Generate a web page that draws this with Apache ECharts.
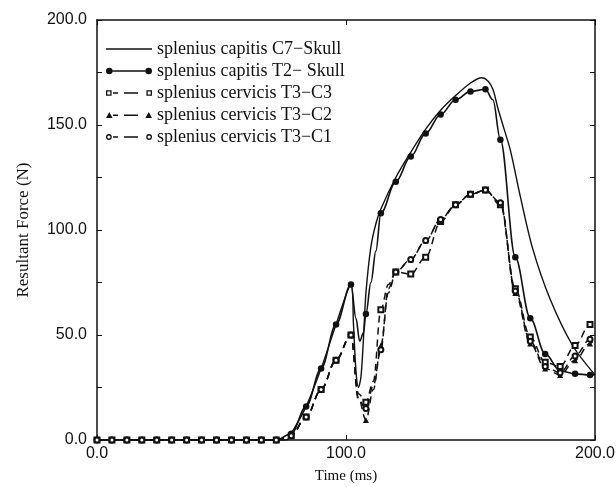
<!DOCTYPE html>
<html>
<head>
<meta charset="utf-8">
<script src="https://cdn.jsdelivr.net/npm/echarts@6/dist/echarts.min.js"></script>
<style>
html,body{margin:0;padding:0;background:#fff;}
#c{width:616px;height:487px;}
</style>
</head>
<body>
<div id="c"></div>
<script>
// ---- data ----
const seriesNames = [
  "splenius capitis C7\u2212Skull",
  "splenius capitis T2\u2212 Skull",
  "splenius cervicis T3\u2212C3",
  "splenius cervicis T3\u2212C2",
  "splenius cervicis T3\u2212C1"
];
const xTicks = [0, 100, 200];
const yTicks = [0, 50, 100, 150, 200];

// C7-Skull (no markers)
const tC7 = [0, 76, 78, 84, 90, 96, 102, 103, 104, 105, 106, 107, 108, 110, 112, 114, 120, 126, 132, 138, 144, 150, 154.5, 157, 159, 161, 163, 166, 170, 175, 182, 191, 200];
const fC7 = [0, 0, 3, 16, 34, 55, 74, 55, 33, 25, 30, 48, 70, 92, 103, 110, 125, 137, 148, 157, 164, 170, 172.5, 171, 167, 158, 150, 138, 116, 91, 67, 45, 31];

// T2-Skull (filled circles every 6 ms)
const tT2 = [0, 6, 12, 18, 24, 30, 36, 42, 48, 54, 60, 66, 72, 78, 84, 90, 96, 102, 104, 105.5, 107, 108, 110, 112, 114, 120, 126, 132, 138, 144, 150, 156, 159, 162, 168, 174, 180, 186, 192, 198, 200];
const fT2 = [0, 0, 0, 0, 0, 0, 0, 0, 0, 0, 0, 0, 0, 3, 16, 34, 55, 74, 58, 47, 51, 60, 75, 90, 108, 123, 135, 146, 155, 162, 166, 167, 162, 143, 87, 58, 41, 33, 31.5, 31, 31];

// T3 series (dashed)
const tT3 = [0, 6, 12, 18, 24, 30, 36, 42, 48, 54, 60, 66, 72, 78, 84, 90, 96, 102, 105, 108, 111, 114, 117, 120, 126, 132, 138, 144, 150, 156, 162, 168, 174, 180, 186, 192, 198, 200];
const fT3C3 = [0, 0, 0, 0, 0, 0, 0, 0, 0, 0, 0, 0, 0, 2, 11, 24, 38, 50, 22, 18, 28, 62, 74, 80, 79, 87, 104, 112, 117, 119, 112, 72, 49, 37, 35, 45, 55, 58];
const fT3C2 = [0, 0, 0, 0, 0, 0, 0, 0, 0, 0, 0, 0, 0, 2, 11, 24, 38, 50, 20, 9.5, 24, 45, 70, 80, 86, 95, 105, 112, 117, 119, 113, 70, 46, 34, 31, 38, 46, 48];
const fT3C1 = [0, 0, 0, 0, 0, 0, 0, 0, 0, 0, 0, 0, 0, 2, 11, 24, 38, 50, 19, 15, 26, 43, 72, 80, 86, 95, 105, 112, 117, 119, 113, 71, 47, 35, 32, 40, 48, 50];

// ---- chart ----
function pairs(t, f) { return t.map((x, i) => [x, f[i]]); }
const markEvery = 6;
function markSize(size) {
  return function (v) { return (v[0] % markEvery === 0) ? size : 0; };
}
const serif = "'Liberation Serif', 'Times New Roman', serif";
const sans = "'Liberation Sans', Arial, sans-serif";
const ink = '#111';

// legend glyphs: line with a marker at both ends, like the reference key
function circ(cx, cy, r, cw) {
  const s = cw ? 1 : 0;
  return 'M' + (cx - r) + ',' + cy + ' A' + r + ',' + r + ' 0 1,' + s + ' ' + (cx + r) + ',' + cy +
         ' A' + r + ',' + r + ' 0 1,' + s + ' ' + (cx - r) + ',' + cy + ' Z ';
}
function rectP(x0, y0, x1, y1, cw) {
  return cw ? ('M' + x0 + ',' + y0 + ' L' + x1 + ',' + y0 + ' L' + x1 + ',' + y1 + ' L' + x0 + ',' + y1 + ' Z ')
            : ('M' + x0 + ',' + y0 + ' L' + x0 + ',' + y1 + ' L' + x1 + ',' + y1 + ' L' + x1 + ',' + y0 + ' Z ');
}
const W = 46, CY = 4.5;
const solidBar = (a, b) => rectP(a, CY - 0.7, b, CY + 0.7, true);
const dashes = rectP(7, CY - 0.7, 12, CY + 0.7, true) + rectP(18, CY - 0.7, 32, CY + 0.7, true);
const iconC7 = 'path://' + rectP(0, CY - 0.7, W, CY + 0.7, true);
const iconT2 = 'path://' + circ(3.3, CY, 3.3, true) + solidBar(6.6, 39.4) + circ(42.7, CY, 3.3, true);
const openSq = (x) => rectP(x, CY - 2.8, x + 5.6, CY + 2.8, true) + rectP(x + 1.3, CY - 1.5, x + 4.3, CY + 1.5, false);
const iconC3 = 'path://' + openSq(0) + dashes + openSq(40.4);
const tri = (cx) => 'M' + cx + ',' + (CY - 3.2) + ' L' + (cx + 3.3) + ',' + (CY + 2.6) + ' L' + (cx - 3.3) + ',' + (CY + 2.6) + ' Z ';
const iconC2 = 'path://' + tri(3.3) + dashes + tri(42.7);
const openCi = (cx) => circ(cx, CY, 2.9, true) + circ(cx, CY, 1.6, false);
const iconC1 = 'path://' + openCi(2.9) + dashes + openCi(43.1);
const legendItemStyle = { color: ink, borderWidth: 0 };

const chart = echarts.init(document.getElementById('c'), null, { renderer: 'canvas' });

const dash = [7, 5];
const option = {
  animation: false,
  backgroundColor: '#fff',
  grid: { left: 97, right: 21, top: 20, bottom: 47, containLabel: false, outerBoundsMode: 'none' },
  legend: {
    orient: 'vertical',
    left: 101,
    top: 34,
    itemWidth: 46,
    itemHeight: 9,
    itemGap: 2,
    symbolKeepAspect: true,
    textStyle: { fontFamily: serif, fontSize: 18, color: ink, lineHeight: 20 },
    data: [
      { name: seriesNames[0], icon: iconC7, itemStyle: legendItemStyle },
      { name: seriesNames[1], icon: iconT2, itemStyle: legendItemStyle },
      { name: seriesNames[2], icon: iconC3, itemStyle: legendItemStyle },
      { name: seriesNames[3], icon: iconC2, itemStyle: legendItemStyle },
      { name: seriesNames[4], icon: iconC1, itemStyle: legendItemStyle }
    ]
  },
  xAxis: [{
    type: 'value', min: 0, max: 200, interval: 100,
    name: 'Time (ms)', nameLocation: 'middle', nameGap: 29,
    nameTextStyle: { fontFamily: serif, fontSize: 15, color: ink },
    axisLine: { show: true, onZero: false, lineStyle: { color: ink, width: 1.5 } },
    axisTick: { show: true, inside: true, length: 5, lineStyle: { color: ink } },
    axisLabel: { fontFamily: sans, fontSize: 16, color: ink, margin: 6,
      formatter: v => xTicks.includes(v) ? v.toFixed(1) : '' },
    splitLine: { show: false }
  }, {
    type: 'value', min: 0, max: 200, interval: 100, position: 'top',
    axisLine: { show: true, onZero: false, lineStyle: { color: ink, width: 1.5 } },
    axisTick: { show: true, inside: true, length: 5, lineStyle: { color: ink } },
    axisLabel: { show: false }, splitLine: { show: false }
  }],
  yAxis: [{
    type: 'value', min: 0, max: 200, interval: 50,
    name: 'Resultant Force (N)', nameLocation: 'middle', nameGap: 65, nameRotate: 90,
    nameTextStyle: { fontFamily: serif, fontSize: 17, color: ink },
    axisLine: { show: true, onZero: false, lineStyle: { color: ink, width: 1.5 } },
    axisTick: { show: true, inside: true, length: 5, lineStyle: { color: ink } },
    minorTick: { show: true, splitNumber: 2, length: 5, lineStyle: { color: ink } },
    axisLabel: { fontFamily: sans, fontSize: 16, color: ink, margin: 10,
      formatter: v => yTicks.includes(v) ? v.toFixed(1) : '' },
    splitLine: { show: false }, minorSplitLine: { show: false }
  }, {
    type: 'value', min: 0, max: 200, interval: 50, position: 'right',
    axisLine: { show: true, onZero: false, lineStyle: { color: ink, width: 1.5 } },
    axisTick: { show: true, inside: true, length: 5, lineStyle: { color: ink } },
    minorTick: { show: true, splitNumber: 2, length: 5, lineStyle: { color: ink } },
    axisLabel: { show: false }, splitLine: { show: false }
  }],
  series: [
    {
      name: seriesNames[0], type: 'line', data: pairs(tC7, fC7),
      smooth: 0.3, symbol: 'circle', symbolSize: 0, showSymbol: false,
      lineStyle: { color: ink, width: 1.4 }, itemStyle: { color: ink }, z: 3
    },
    {
      name: seriesNames[1], type: 'line', data: pairs(tT2, fT2),
      smooth: 0.35, smoothMonotone: 'x', symbol: 'circle', symbolSize: markSize(6.5),
      lineStyle: { color: ink, width: 1.6 }, itemStyle: { color: ink }, z: 4
    },
    {
      name: seriesNames[2], type: 'line', data: pairs(tT3, fT3C3),
      smooth: 0.35, smoothMonotone: 'x', symbol: 'emptyRect', symbolSize: markSize(5),
      lineStyle: { color: ink, width: 1.5, type: dash }, itemStyle: { color: ink, borderWidth: 1.3 }, z: 5
    },
    {
      name: seriesNames[3], type: 'line', data: pairs(tT3, fT3C2),
      smooth: 0.35, smoothMonotone: 'x', symbol: 'triangle', symbolSize: markSize(6),
      lineStyle: { color: ink, width: 1.5, type: dash }, itemStyle: { color: ink }, z: 5
    },
    {
      name: seriesNames[4], type: 'line', data: pairs(tT3, fT3C1),
      smooth: 0.35, smoothMonotone: 'x', symbol: 'emptyCircle', symbolSize: markSize(5),
      lineStyle: { color: ink, width: 1.5, type: dash }, itemStyle: { color: ink, borderWidth: 1.3 }, z: 6
    }
  ]
};
chart.setOption(option);
</script>
</body>
</html>
